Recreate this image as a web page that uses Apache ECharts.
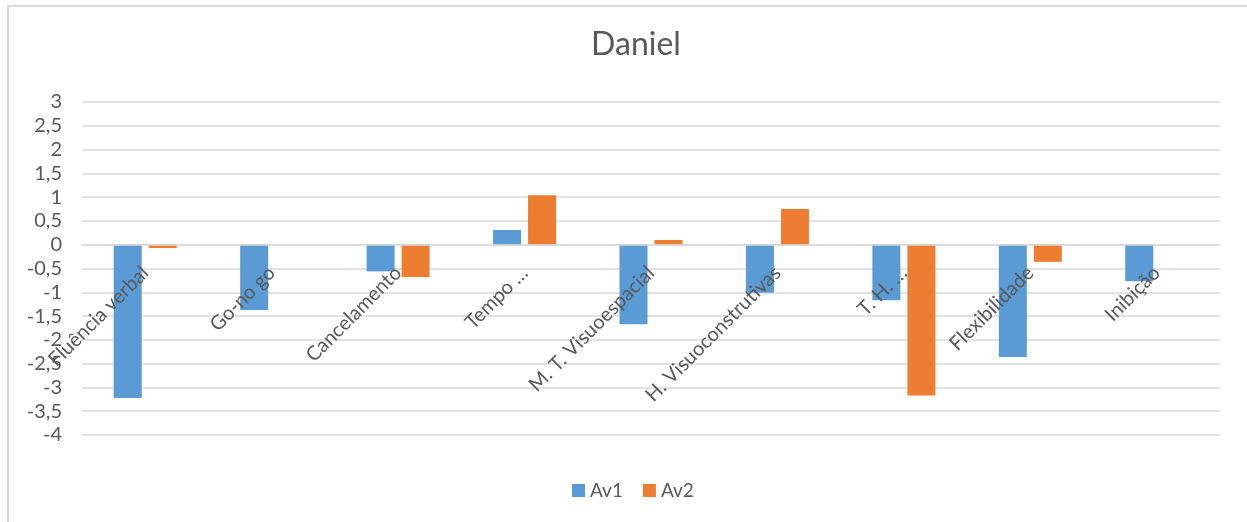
<!DOCTYPE html>
<html>
<head>
<meta charset="utf-8">
<title>Daniel</title>
<script src="https://cdn.jsdelivr.net/npm/echarts@6/dist/echarts.min.js"></script>
<style>
  html, body { margin: 0; padding: 0; background: #ffffff; }
  #chart { width: 1247px; height: 522px; }
</style>
</head>
<body>
<div id="chart"></div>
<script>
// Cognitive assessment scores (z-scores) for two evaluations
const categories = [
  'Fluência verbal', 'Go-no go', 'Cancelamento', 'Tempo …',
  'M. T. Visuoespacial', 'H. Visuoconstrutivas', 'T. H. …',
  'Flexibilidade', 'Inibição'
];
const av1 = [-3.22, -1.37, -0.56, 0.31, -1.67, -1.01, -1.17, -2.36, -0.77];
const av2 = [-0.07, null, -0.68, 1.04, 0.10, 0.75, -3.17, -0.36, null];
const seriesNames = ['Av1', 'Av2'];

const textColor = '#595959';
const fontFamily = 'Lato, "Open Sans", sans-serif';

// Plot frame (pixels) and value range
const gridTop = 102, gridBottom = 87;
const yMin = -4, yMax = 3;
const plotHeight = 522 - gridTop - gridBottom;
// Category labels hang just below the zero line, so lift them from the grid edge
const zeroFromBottom = plotHeight * (0 - yMin) / (yMax - yMin);
const labelGap = 25;

const chart = echarts.init(document.getElementById('chart'), null, { renderer: 'canvas' });

chart.setOption({
  backgroundColor: '#ffffff',
  animation: false,
  textStyle: { fontFamily: fontFamily, color: textColor },
  graphic: [{
    type: 'rect',
    z: -10,
    shape: { x: 8, y: 6, width: 1260, height: 540 },
    style: { fill: 'none', stroke: '#D9D9D9', lineWidth: 2 }
  }],
  title: {
    text: 'Daniel',
    left: 631,
    top: 24,
    textAlign: 'center',
    textStyle: { fontFamily: fontFamily, fontSize: 32, fontWeight: 'normal', color: textColor }
  },
  legend: {
    data: seriesNames,
    left: 567,
    top: 476,
    itemWidth: 13,
    itemHeight: 13,
    itemGap: 20,
    icon: 'rect',
    textStyle: { fontFamily: fontFamily, fontSize: 19, color: textColor }
  },
  grid: {
    left: 82, right: 27, top: gridTop, bottom: gridBottom,
    containLabel: false,
    outerBoundsMode: 'none'
  },
  xAxis: {
    type: 'category',
    data: categories,
    z: 10,
    axisLine: { show: true, onZero: true, lineStyle: { color: '#D9D9D9', width: 1.5 } },
    axisTick: { show: false },
    axisLabel: {
      interval: 0,
      rotate: 45,
      margin: labelGap - zeroFromBottom,
      hideOverlap: false,
      fontFamily: fontFamily,
      fontSize: 20,
      color: textColor
    }
  },
  yAxis: {
    type: 'value',
    min: yMin,
    max: yMax,
    interval: 0.5,
    axisLine: { show: false },
    axisTick: { show: false },
    splitLine: { lineStyle: { color: '#D9D9D9', width: 1.5 } },
    axisLabel: {
      margin: 20,
      showMinLabel: true,
      showMaxLabel: true,
      hideOverlap: false,
      fontFamily: fontFamily,
      fontSize: 20,
      color: textColor,
      formatter: v => String(v).replace('.', ',')
    }
  },
  series: [
    {
      name: seriesNames[0],
      type: 'bar',
      data: av1,
      barWidth: 28,
      barGap: '25%',
      itemStyle: { color: '#5B9BD5' }
    },
    {
      name: seriesNames[1],
      type: 'bar',
      data: av2,
      barWidth: 28,
      barGap: '25%',
      itemStyle: { color: '#ED7D31' }
    }
  ]
});
</script>
</body>
</html>
